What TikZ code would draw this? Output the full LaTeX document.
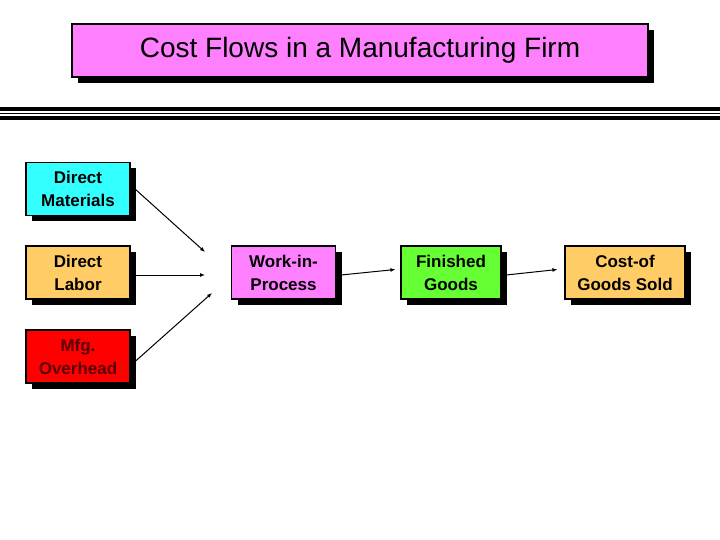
\documentclass[tikz,border=0pt]{standalone}
\usepackage{fontspec}
\setmainfont{Liberation Sans}
\usetikzlibrary{arrows.meta,shadows}
\definecolor{cyanb}{HTML}{33FFFF}
\definecolor{orangeb}{HTML}{FFCC66}
\definecolor{redb}{HTML}{FF0000}
\definecolor{pinkb}{HTML}{FF80FF}
\definecolor{greenb}{HTML}{66FF33}
\definecolor{darkred}{HTML}{5A0000}
\tikzset{
  box/.style={draw=black, line width=1.2pt, minimum width=104pt, minimum height=53pt, inner sep=1pt, align=center,
    font=\fontsize{17}{23}\selectfont\bfseries, drop shadow={shadow xshift=6pt, shadow yshift=-6pt, opacity=1, fill=black}},
  flow/.style={-{Latex[length=5pt,width=4pt]}, line width=1pt}
}
\begin{document}
\begin{tikzpicture}[x=1pt,y=-1pt]
\useasboundingbox (0,0) rectangle (720,540);
\fill[white] (0,0) rectangle (720,540);
\node[box, fill=pinkb, minimum width=576pt, font=\fontsize{28}{32}\selectfont] (title) at (360,50.5) {Cost Flows in a Manufacturing Firm};
\fill[black] (0,107) rectangle (720,111);
\fill[black] (0,113) rectangle (720,114.5);
\fill[black] (0,116) rectangle (720,120);
\node[box, fill=cyanb] (dm) at (78,189) {Direct\\Materials};
\node[box, fill=orangeb] (dl) at (78,272.5) {Direct\\Labor};
\node[box, fill=redb, text=darkred] (mo) at (78,356.5) {Mfg.\\Overhead};
\node[box, fill=pinkb] (wip) at (283.5,272.5) {Work-in-\\Process};
\node[box, fill=greenb, minimum width=100pt] (fg) at (451,272.5) {Finished\\Goods};
\node[box, fill=orangeb, minimum width=120pt] (cogs) at (625,272.5) {Cost-of\\Goods Sold};
\coordinate (t1) at (205,252);
\coordinate (t2) at (205,275);
\coordinate (t3) at (212,293);
\draw[flow] (dm.east) ++(0,-4) -- (t1);
\draw[flow] (dl.east) ++(0,2.5) -- (t2);
\draw[flow] (mo.east) ++(0,9) -- (t3);
\draw[flow] (wip.east) ++(0,3) -- ([xshift=-5pt,yshift=3pt]fg.west);
\draw[flow] (fg.east) ++(0,3) -- ([xshift=-7pt,yshift=3pt]cogs.west);
\end{tikzpicture}
\end{document}
